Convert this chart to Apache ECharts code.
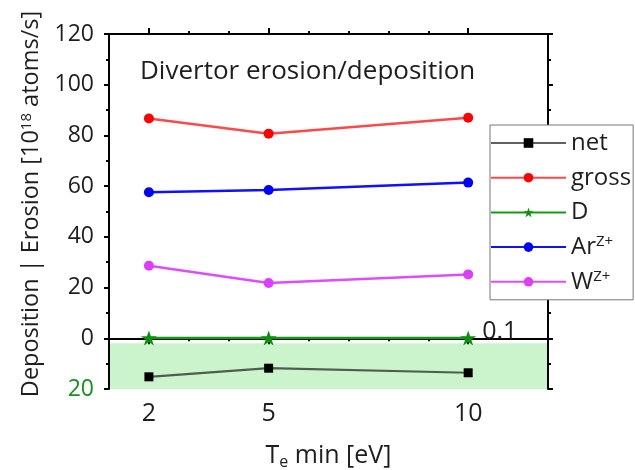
<!DOCTYPE html>
<html>
<head>
<meta charset="utf-8">
<script src="https://cdn.jsdelivr.net/npm/echarts@6/dist/echarts.min.js"></script>
<style>
  html, body { margin: 0; padding: 0; background: #fff; }
  #chart { width: 635px; height: 470px; }
</style>
</head>
<body>
<div id="chart"></div>
<script>
// Minimum electron temperature scan (eV)
const teMin = [2, 5, 10];
const xMajorTicks = [2, 5, 10];
const xMinorTicks = [3, 4, 6, 7, 8, 9];

// Fluxes in 1e18 atoms/s; negative values = deposition
const netFlux   = [-15.2, -11.8, -13.6];
const grossFlux = [86.7, 80.7, 87.0];
const dFlux     = [0.1, 0.1, 0.1];
const arFlux    = [57.6, 58.5, 61.4];
const wFlux     = [28.6, 21.8, 25.2];

// Deposition band shown in green
const depositionBand = [-2, -20];

const seriesNames = ['net', 'gross', 'D', 'ArZ+', 'WZ+'];
const legendLabels = {
  'net': 'net',
  'gross': 'gross',
  'D': 'D',
  'ArZ+': 'Ar{sup|Z+}',
  'WZ+': 'W{sup|Z+}'
};

const FONT = '"Open Sans", "Noto Sans", sans-serif';
const TXT = '#1e1e1e';
const GREEN = '#12921a';
const STAR = 'path://M50,2 L61.8,36.2 L97.6,36.2 L68.6,57.4 L79.4,92 L50,70.6 L20.6,92 L31.4,57.4 L2.4,36.2 L38.2,36.2 Z';

const pts = (ys) => teMin.map((x, i) => [x, ys[i]]);

const chart = echarts.init(document.getElementById('chart'), null, { renderer: 'canvas' });

const xBase = {
  type: 'value', min: 1, max: 12, gridIndex: 0,
  splitLine: { show: false }
};
const yBase = {
  type: 'value', min: -20, max: 120, interval: 20,
  splitLine: { show: false },
  axisLine: { show: true, lineStyle: { color: '#000', width: 2 } },
  axisTick: { show: true, inside: false, length: 5, lineStyle: { color: '#000', width: 2 } },
  minorTick: { show: true, splitNumber: 2, length: 3, lineStyle: { color: '#000', width: 2 } },
  minorSplitLine: { show: false }
};

chart.setOption({
  animation: false,
  backgroundColor: '#fff',
  textStyle: { fontFamily: FONT },
  grid: { left: 109, right: 87, top: 34, bottom: 81, containLabel: false, outerBoundsMode: 'none' },
  title: {
    text: 'Divertor erosion/deposition',
    left: 140, top: 59,
    padding: 0,
    textStyle: { fontFamily: FONT, fontSize: 26, fontWeight: 'normal', color: TXT }
  },
  legend: {
    data: seriesNames,
    orient: 'vertical',
    left: 490, top: 125,
    padding: [5, 2, 5, 0],
    itemWidth: 75, itemHeight: 12, itemGap: 8.7,
    backgroundColor: '#fff',
    borderColor: '#777', borderWidth: 1,
    formatter: (name) => legendLabels[name],
    textStyle: {
      fontFamily: FONT, fontSize: 24, color: TXT, lineHeight: 26,
      rich: { sup: { fontFamily: FONT, fontSize: 15, color: TXT, verticalAlign: 'top', lineHeight: 18 } }
    }
  },
  xAxis: [
    Object.assign({}, xBase, {
      position: 'bottom',
      name: 'T{sub|e} min [eV]',
      nameLocation: 'middle', nameGap: 53,
      nameTextStyle: {
        fontFamily: FONT, fontSize: 25, color: TXT,
        rich: { sub: { fontFamily: FONT, fontSize: 16, color: TXT, verticalAlign: 'bottom', padding: [12, 0, 0, 0] } }
      },
      axisLine: { show: true, lineStyle: { color: '#000', width: 2 } },
      axisTick: { show: true, length: 6, customValues: xMajorTicks, lineStyle: { color: '#000', width: 2 } },
      axisLabel: { show: true, customValues: xMajorTicks, margin: 12, fontFamily: FONT, fontSize: 25, color: TXT }
    }),
    Object.assign({}, xBase, {
      position: 'bottom',
      axisLine: { show: false },
      axisTick: { show: true, length: 3, customValues: xMinorTicks, lineStyle: { color: '#000', width: 2 } },
      axisLabel: { show: false }
    }),
    Object.assign({}, xBase, {
      position: 'top',
      axisLine: { show: true, lineStyle: { color: '#000', width: 2 } },
      axisTick: { show: true, length: 6, customValues: xMajorTicks, lineStyle: { color: '#000', width: 2 } },
      axisLabel: { show: false }
    }),
    Object.assign({}, xBase, {
      position: 'top',
      axisLine: { show: false },
      axisTick: { show: true, length: 3, customValues: xMinorTicks, lineStyle: { color: '#000', width: 2 } },
      axisLabel: { show: false }
    })
  ],
  yAxis: [
    Object.assign({}, yBase, {
      position: 'left',
      name: 'Deposition | Erosion [10{sup|18} atoms/s]',
      nameLocation: 'middle', nameGap: 62,
      nameTextStyle: {
        fontFamily: FONT, fontSize: 23.5, color: TXT,
        padding: [0, 0, 0, 15],
        rich: { sup: { fontFamily: FONT, fontSize: 15, color: TXT, verticalAlign: 'top', lineHeight: 18 } }
      },
      axisLabel: {
        show: true, margin: 15, fontFamily: FONT, fontSize: 23, color: TXT,
        formatter: (v) => (v < 0 ? '{g|' + (-v) + '}' : String(v)),
        rich: { g: { fontFamily: FONT, fontSize: 23, color: GREEN } }
      }
    }),
    Object.assign({}, yBase, {
      position: 'right',
      axisLabel: { show: false }
    })
  ],
  series: [
    {
      name: 'net', type: 'line', xAxisIndex: 0, yAxisIndex: 0,
      data: pts(netFlux),
      symbol: 'rect', symbolSize: 9,
      itemStyle: { color: '#000' },
      lineStyle: { color: 'rgba(0,0,0,0.62)', width: 2.2 },
      markArea: {
        silent: true,
        z: 0,
        itemStyle: { color: 'rgb(204,244,204)' },
        data: [[{ yAxis: depositionBand[0] }, { yAxis: depositionBand[1] }]]
      },
      z: 3
    },
    {
      name: 'gross', type: 'line', xAxisIndex: 0, yAxisIndex: 0,
      data: pts(grossFlux),
      symbol: 'circle', symbolSize: 10,
      itemStyle: { color: '#ff0000' },
      lineStyle: { color: '#ff4848', width: 2.5 },
      z: 3
    },
    {
      name: 'D', type: 'line', xAxisIndex: 0, yAxisIndex: 0,
      data: pts(dFlux).map((p, i) => (i === dFlux.length - 1 ? {
        value: p,
        label: {
          show: true, position: 'right', distance: 6, offset: [0, -6],
          formatter: (prm) => String(prm.value[1]),
          fontFamily: FONT, fontSize: 25, color: TXT
        }
      } : p)),
      symbol: STAR, symbolSize: [16, 15],
      itemStyle: { color: '#0b910b' },
      lineStyle: { color: '#169a16', width: 2.5 },
      z: 5
    },
    {
      name: 'ArZ+', type: 'line', xAxisIndex: 0, yAxisIndex: 0,
      data: pts(arFlux),
      symbol: 'circle', symbolSize: 10,
      itemStyle: { color: '#0000ff' },
      lineStyle: { color: '#1010ff', width: 2.5 },
      z: 3
    },
    {
      name: 'WZ+', type: 'line', xAxisIndex: 0, yAxisIndex: 0,
      data: pts(wFlux),
      symbol: 'circle', symbolSize: 10,
      itemStyle: { color: '#dd3dfc' },
      lineStyle: { color: '#de4dfd', width: 2.5 },
      z: 3
    }
  ]
});
</script>
</body>
</html>
